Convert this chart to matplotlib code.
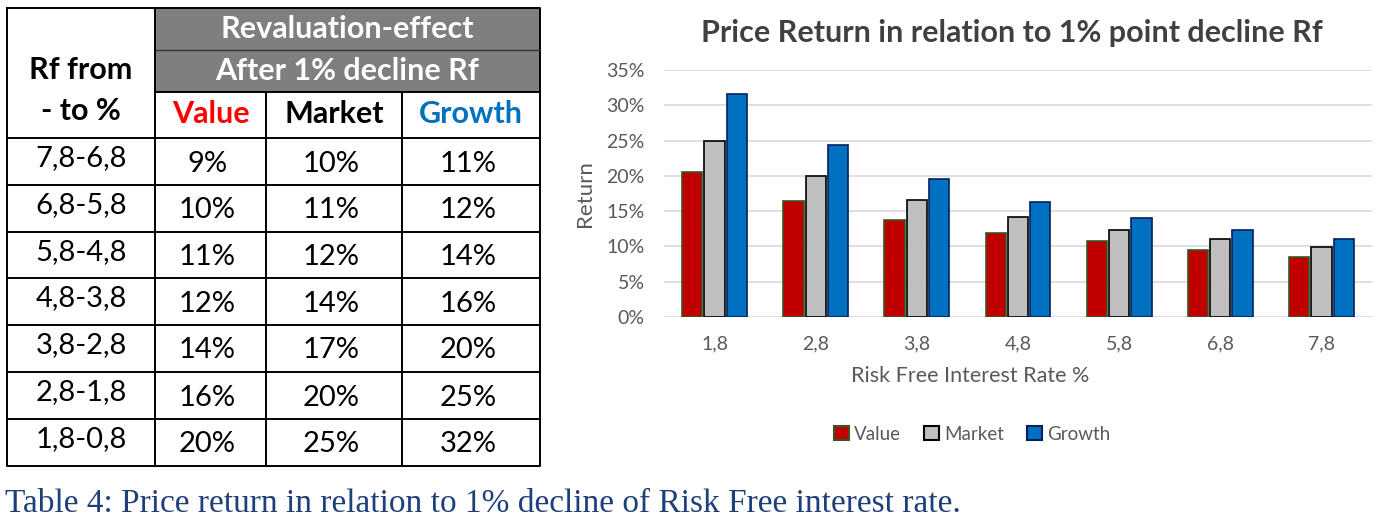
import matplotlib.pyplot as plt
from matplotlib.patches import Rectangle, Patch
import numpy as np

plt.rcParams['font.family'] = ['Lato', 'DejaVu Sans']

# table data
rf_ranges = ['7,8-6,8', '6,8-5,8', '5,8-4,8', '4,8-3,8', '3,8-2,8', '2,8-1,8', '1,8-0,8']
tab_value = [9, 10, 11, 12, 14, 16, 20]
tab_market = [10, 11, 12, 14, 17, 20, 25]
tab_growth = [11, 12, 14, 16, 20, 25, 32]

# chart data
rf_levels = ['1,8', '2,8', '3,8', '4,8', '5,8', '6,8', '7,8']
ret_value = [20.6, 16.5, 13.8, 11.9, 10.8, 9.5, 8.5]
ret_market = [25.0, 20.0, 16.6, 14.1, 12.3, 11.1, 9.9]
ret_growth = [31.6, 24.4, 19.5, 16.3, 14.0, 12.3, 11.1]

W, H = 1378, 526
fig = plt.figure(figsize=(W / 100, H / 100), dpi=100)

# overlay in pixel coordinates for the table + caption
ov = fig.add_axes([0, 0, 1, 1])
ov.set_xlim(0, W)
ov.set_ylim(H, 0)
ov.axis('off')

cols = [7, 155, 266, 402, 540]
rows = [8, 50, 92, 138, 185, 232, 278, 325, 372, 419, 466]
lw = 1.4

ov.add_patch(Rectangle((cols[1], rows[0]), cols[4] - cols[1], rows[2] - rows[0],
                       facecolor='#7f7f7f', edgecolor='none'))
# outer border
ov.plot([cols[0], cols[4], cols[4], cols[0], cols[0]],
        [rows[0], rows[0], rows[-1], rows[-1], rows[0]], color='black', lw=lw)
# horizontal lines
ov.plot([cols[1], cols[4]], [rows[1], rows[1]], color='#333333', lw=1.0)
ov.plot([cols[1], cols[4]], [rows[2], rows[2]], color='black', lw=lw)
for r in rows[3:-1]:
    ov.plot([cols[0], cols[4]], [r, r], color='black', lw=lw)
# vertical lines
ov.plot([cols[1], cols[1]], [rows[0], rows[-1]], color='black', lw=lw)
for c in cols[2:4]:
    ov.plot([c, c], [rows[2], rows[-1]], color='black', lw=lw)

hfs = 22
fs = 21
ov.text((cols[0] + cols[1]) / 2, 70, 'Rf from', ha='center', va='center',
        fontsize=hfs, fontweight='bold', color='black')
ov.text((cols[0] + cols[1]) / 2, 111, '- to %', ha='center', va='center',
        fontsize=hfs, fontweight='bold', color='black')
ov.text((cols[1] + cols[4]) / 2, 29, 'Revaluation-effect', ha='center', va='center',
        fontsize=hfs, fontweight='bold', color='white')
ov.text((cols[1] + cols[4]) / 2, 71, 'After 1% decline Rf', ha='center', va='center',
        fontsize=hfs, fontweight='bold', color='white')
for i, (lab, col) in enumerate(zip(['Value', 'Market', 'Growth'],
                                   ['#ff0000', 'black', '#0070c0'])):
    ov.text((cols[i + 1] + cols[i + 2]) / 2, 114, lab, ha='center', va='center',
            fontsize=hfs, fontweight='bold', color=col)

for j, rng in enumerate(rf_ranges):
    yc = (rows[j + 3] + rows[j + 4]) / 2
    ov.text((cols[0] + cols[1]) / 2, yc - 3, rng, ha='center', va='center',
            fontsize=fs, color='black')
    for i, vals in enumerate([tab_value, tab_market, tab_growth]):
        ov.text((cols[i + 1] + cols[i + 2]) / 2 - 3, yc + 2, f'{vals[j]}%',
                ha='center', va='center', fontsize=fs, color='black')

ov.text(5, 504, 'Table 4: Price return in relation to 1% decline of Risk Free interest rate.',
        ha='left', va='center', fontsize=24, color='#1f3f7a',
        family=['Liberation Serif', 'DejaVu Serif'])

# bar chart
ax = fig.add_axes([664 / W, (H - 317) / H, (1372 - 664) / W, (317 - 70) / H])
x = np.arange(len(rf_levels))
bw = 0.2
step = 0.22
ax.bar(x - step, ret_value, bw, color='#c00000', edgecolor='#375623', lw=1.2, label='Value', zorder=3)
ax.bar(x, ret_market, bw, color='#bfbfbf', edgecolor='black', lw=1.2, label='Market', zorder=3)
ax.bar(x + step, ret_growth, bw, color='#0070c0', edgecolor='#002060', lw=1.2, label='Growth', zorder=3)

ax.set_xlim(-0.5, len(rf_levels) - 0.5)
ax.set_ylim(0, 35)
ax.set_yticks(range(0, 36, 5))
ax.set_yticklabels([f'{v}%' for v in range(0, 36, 5)])
ax.set_xticks(x)
ax.set_xticklabels(rf_levels)
ax.tick_params(length=0, colors='#595959', labelsize=14)
ax.tick_params(axis='y', pad=14)
ax.tick_params(axis='x', pad=13)
ax.grid(axis='y', color='#d9d9d9', lw=1.2, zorder=0)
for s in ax.spines.values():
    s.set_visible(False)
ax.set_ylabel('Return', fontsize=16, color='#595959', labelpad=8)

fig.text(970 / W, 1 - 376 / H, 'Risk Free Interest Rate %', ha='center', va='center',
         fontsize=15.5, color='#595959')
fig.text(1012 / W, 1 - 33 / H, 'Price Return in relation to 1% point decline Rf',
         ha='center', va='center', fontsize=22, fontweight='bold', color='#404040')

handles = [Patch(facecolor='#c00000', edgecolor='#375623', lw=1.5, label='Value'),
           Patch(facecolor='#bfbfbf', edgecolor='black', lw=1.5, label='Market'),
           Patch(facecolor='#0070c0', edgecolor='#002060', lw=1.5, label='Growth')]
fig.legend(handles=handles, loc='center', bbox_to_anchor=(972 / W, 1 - 434 / H),
           ncol=3, frameon=False, fontsize=13.5, handlelength=0.8, handleheight=0.8,
           handletextpad=0.3, columnspacing=1.2, labelcolor='#595959')

fig.savefig('out.png', dpi=100)
